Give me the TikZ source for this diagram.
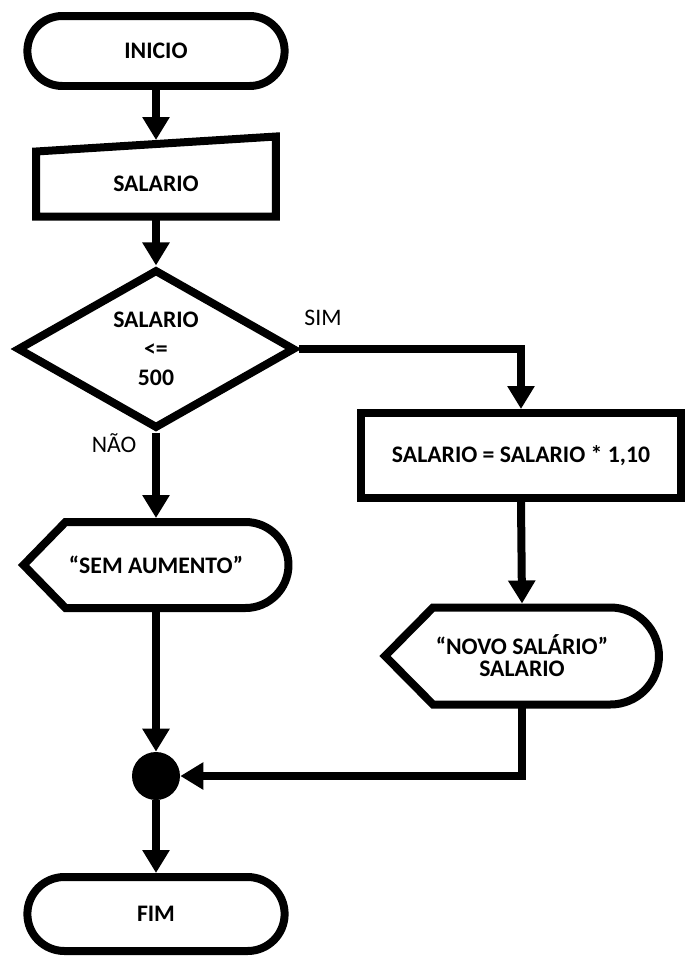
\documentclass[tikz,border=0pt]{standalone}
\usepackage{fontspec}
\setmainfont{Carlito}
\usetikzlibrary{shapes.geometric,shapes.misc,arrows.meta}

\begin{document}
\begin{tikzpicture}[x=0.02cm,y=-0.02cm,
    boldtext/.style={font=\bfseries\fontsize{13.5}{15}\selectfont},
    thick line/.style={line width=0.16cm,line join=miter},
    term/.style={rounded rectangle,draw,thick line,boldtext,minimum width=5.38cm,minimum height=1.4cm},
    decision/.style={diamond,draw,thick line,boldtext,align=center,inner sep=0pt,minimum width=5.56cm,minimum height=2.94cm},
    process/.style={rectangle,draw,thick line,boldtext,minimum width=6.4cm,minimum height=1.7cm},
    textbox/.style={rectangle,boldtext,align=center,inner sep=0pt,outer sep=0pt},
    junction/.style={circle,fill=black,minimum size=0.96cm,inner sep=0pt},
    answer/.style={font=\fontsize{13.5}{16}\selectfont},
    arr/.style={thick line,-{Triangle[width=0.52cm,length=0.46cm]}}]
  \useasboundingbox (0,0) rectangle (685,958);
  \node[term] (inicio) at (156,51) {INICIO};
  \node[textbox,minimum width=4.8cm,minimum height=1.3cm] (salario) at (156,184) {SALARIO};
  \draw[thick line] (salario.south west) -- (salario.north west) -- ([yshift=0.3cm]salario.north east) -- (salario.south east) -- cycle;
  \node[decision,font=\bfseries\fontsize{13.5}{15}\selectfont] (dec) at (156,349) {SALARIO\\[1.5pt]<=\\[1.5pt]500};
  \node[answer] (sim) at (323,318) {SIM};
  \node[answer] (nao) at (114,443) {NÃO};
  \node[process] (calc) at (521,455.5) {SALARIO = SALARIO * 1,10};
  \node[textbox,minimum width=5.3cm,minimum height=1.72cm] (sem) at (156,565) {“SEM AUMENTO”};
  \draw[thick line] (sem.west) -- ([xshift=0.84cm]sem.north west) -- ([xshift=-0.86cm]sem.north east) arc[start angle=90,end angle=-90,radius=0.86cm] -- ([xshift=0.84cm]sem.south west) -- cycle;
  \node[textbox,font=\bfseries\fontsize{13.5}{12.5}\selectfont,minimum width=5.48cm,minimum height=1.94cm] (novo) at (522,656) {“NOVO SALÁRIO”\\SALARIO};
  \draw[thick line] (novo.west) -- ([xshift=0.96cm]novo.north west) -- ([xshift=-0.97cm]novo.north east) arc[start angle=90,end angle=-90,radius=0.97cm] -- ([xshift=0.96cm]novo.south west) -- cycle;
  \node[junction] (jn) at (156,776) {};
  \node[term,minimum height=1.48cm] (fim) at (156,914) {FIM};

  \draw[arr] (inicio.south) -- ([yshift=0.23cm]salario.north);
  \draw[arr] (salario.south) -- (dec.north);
  \draw[arr] (dec.east) -| (calc.north);
  \draw[arr] (dec.south) -- ([yshift=0.08cm]sem.north);
  \draw[arr] (calc.south) -- ([yshift=0.08cm]novo.north);
  \draw[arr] (sem.south) -- (jn.north);
  \draw[arr] (novo.south) |- (jn.east);
  \draw[arr] (jn.south) -- (fim.north);
\end{tikzpicture}
\end{document}
